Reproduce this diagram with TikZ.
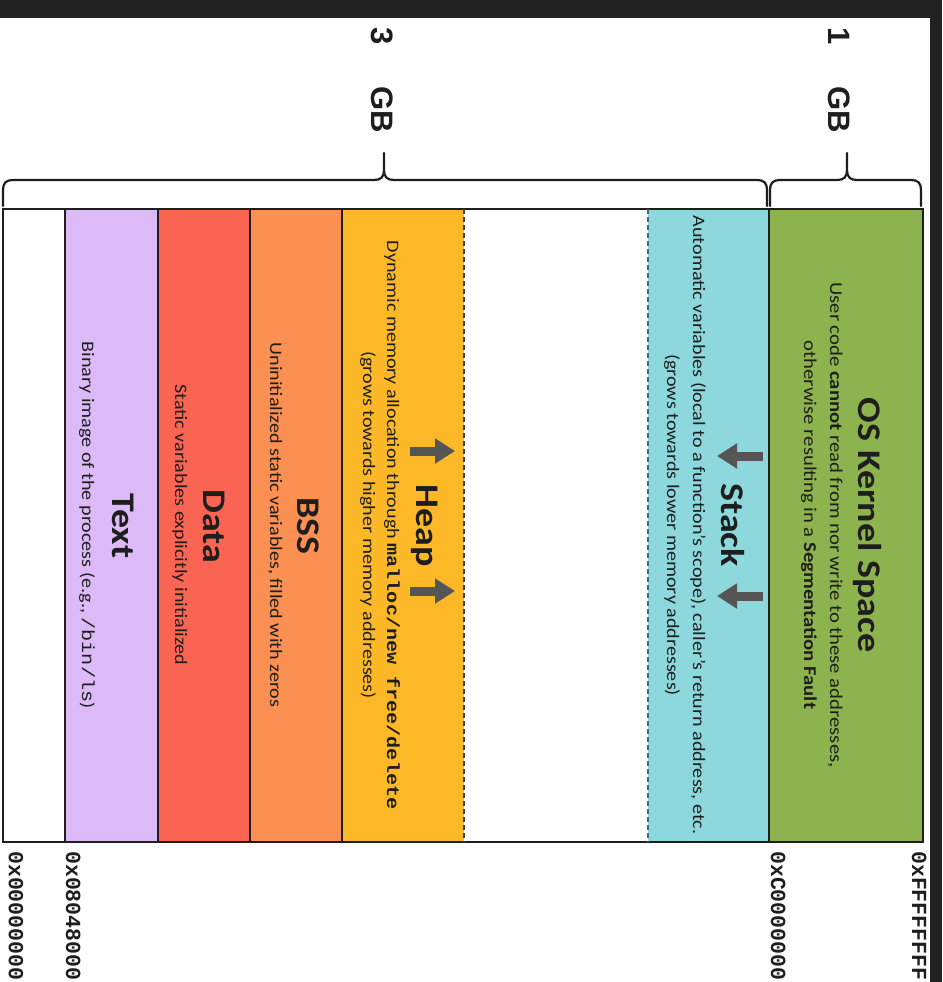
\documentclass[tikz,border=0pt]{standalone}
\usepackage{fontspec}
\setmainfont[FakeStretch=1.15]{Carlito}
\newfontfamily\monof[FakeStretch=1.15]{Liberation Mono}
\newfontfamily\addrf{Liberation Mono}
\newfontfamily\gbf{Liberation Sans}
\usetikzlibrary{arrows.meta}
\definecolor{bgdark}{HTML}{222222}
\definecolor{klav}{HTML}{DBBAF7}
\definecolor{kred}{HTML}{FA6452}
\definecolor{korange}{HTML}{FB9052}
\definecolor{kyellow}{HTML}{FCB826}
\definecolor{kcyan}{HTML}{8DD8DC}
\definecolor{kgreen}{HTML}{8CB34D}
\definecolor{ink}{HTML}{1E1E1E}
\definecolor{arrowgray}{HTML}{555555}
\definecolor{stackdash}{HTML}{3E6E74}
\tikzset{
  segtitle/.style={rotate=-90, anchor=base, inner sep=0pt, text=ink, font=\fontsize{33}{36}\selectfont\bfseries},
  segsub/.style={rotate=-90, anchor=base, inner sep=0pt, text=ink, font=\fontsize{17.5}{20}\selectfont},
  addrlabel/.style={rotate=-90, anchor=base west, inner sep=0pt, text=ink, font=\addrf\bfseries\fontsize{21.5}{24}\selectfont},
  gblabel/.style={rotate=-90, anchor=base west, inner sep=0pt, text=ink, font=\gbf\bfseries\fontsize{31}{34}\selectfont},
  frameline/.style={draw=ink, line width=1.6pt},
  dashedge/.style={line width=1.6pt, dash pattern=on 5pt off 3pt},
  growarrow/.style={draw=arrowgray, line width=9pt, -{Triangle[length=20pt,width=24pt]}},
  bracepath/.style={draw=ink, line width=2.2pt, line cap=round, line join=round}
}
\begin{document}
\begin{tikzpicture}[x=1pt,y=-1pt]
\useasboundingbox (0,0) rectangle (942,982);
\fill[white] (0,0) rectangle (942,982);
\fill[bgdark] (0,0) rectangle (942,18);
\fill[bgdark] (930,0) rectangle (942,982);

% segments
\fill[klav] (65,209) rectangle (158,842);
\fill[kred] (158,209) rectangle (250,842);
\fill[korange] (250,209) rectangle (342,842);
\fill[kyellow] (342,209) rectangle (464,842);
\fill[kcyan] (648,209) rectangle (769,842);
\fill[kgreen] (769,209) rectangle (923,842);

\draw[frameline] (3,209) rectangle (923,842);
\foreach \xx in {65,158,250,342,769} \draw[frameline] (\xx,209) -- (\xx,842);
\draw[dashedge, draw=ink!85] (464,209) -- (464,842);
\draw[dashedge, draw=stackdash] (648,209) -- (648,842);

% braces
\draw[bracepath] (3,206) -- (3,190) .. controls (3,183) and (6,180) .. (13,180) -- (374,180)
  .. controls (381,180) and (384,177) .. (384,170) -- (384,153) -- (384,170)
  .. controls (384,177) and (387,180) .. (394,180) -- (757,180)
  .. controls (764,180) and (767,183) .. (767,190) -- (767,206);
\draw[bracepath] (770,206) -- (770,190) .. controls (770,183) and (773,180) .. (780,180) -- (837,180)
  .. controls (844,180) and (847,177) .. (847,170) -- (847,153) -- (847,170)
  .. controls (847,177) and (850,180) .. (857,180) -- (911,180)
  .. controls (918,180) and (921,183) .. (921,190) -- (921,206);
\node[gblabel] (gbthree) at (371,27) {3\hspace{42pt}GB};
\node[gblabel] (gbone) at (828,27) {1\hspace{42pt}GB};

% kernel
\node[segtitle] (kernelT) at (858,525) {OS Kernel Space};
\node[segsub, font=\fontsize{18}{20}\selectfont] (kernelA) at (830,525) {User code \textbf{cannot} read from nor write to these addresses,};
\node[segsub, font=\fontsize{18}{20}\selectfont] (kernelB) at (804,525) {otherwise resulting in a \textbf{Segmentation Fault}};

% stack
\node[segtitle] (stackT) at (721,525) {Stack};
\node[segsub] (stackA) at (693,525) {Automatic variables (local to a function’s scope), caller’s return address, etc.};
\node[segsub] (stackB) at (667,525) {(grows towards lower memory addresses)};
\coordinate (sa1) at (763,456); \coordinate (sb1) at (717,456);
\coordinate (sa2) at (763,596); \coordinate (sb2) at (717,596);
\draw[growarrow] (sa1) -- (sb1);
\draw[growarrow] (sa2) -- (sb2);

% heap
\node[segtitle] (heapT) at (416,526) {Heap};
\node[segsub] (heapA) at (387,525) {Dynamic memory allocation through {\monof\bfseries malloc/new free/delete}};
\node[segsub] (heapB) at (363,525) {(grows towards higher memory addresses)};
\coordinate (ha1) at (410,451); \coordinate (hb1) at (455,451);
\coordinate (ha2) at (410,591); \coordinate (hb2) at (455,591);
\draw[growarrow] (ha1) -- (hb1);
\draw[growarrow] (ha2) -- (hb2);

% bss, data, text
\node[segtitle] (bssT) at (297,526) {BSS};
\node[segsub] (bssA) at (270,525) {Uninitialized static variables, filled with zeros};
\node[segtitle] (dataT) at (203,526) {Data};
\node[segsub] (dataA) at (175,525) {Static variables explicitly initialized};
\node[segtitle] (textT) at (112,526) {Text};
\node[segsub] (textA) at (82,525) {Binary image of the process (e.g., {\monof /bin/ls})};

% addresses
\node[addrlabel] (a0) at (9,851) {0x00000000};
\node[addrlabel] (a1) at (66,851) {0x08048000};
\node[addrlabel] (a2) at (771,851) {0xC0000000};
\node[addrlabel] (a3) at (912,851) {0xFFFFFFFF};
\end{tikzpicture}
\end{document}
